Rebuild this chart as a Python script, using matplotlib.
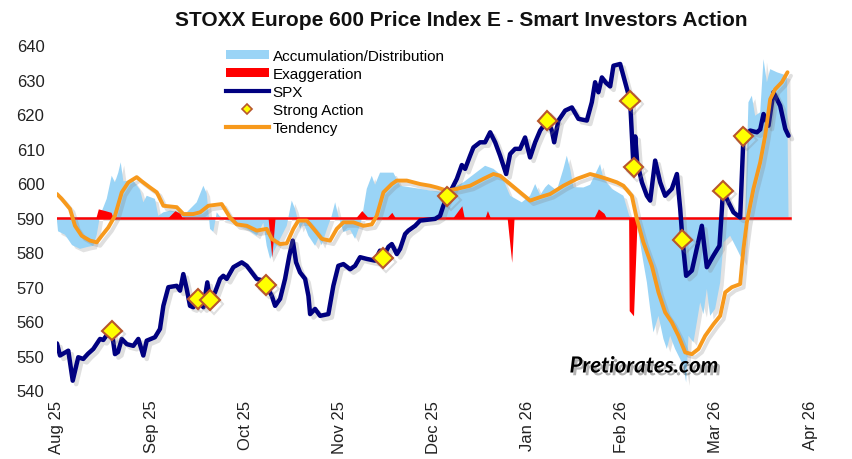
import matplotlib
matplotlib.use("Agg")
import matplotlib.pyplot as plt
import matplotlib.patheffects as pe
from matplotlib.patches import Patch
from matplotlib.lines import Line2D

plt.rcParams['font.family'] = ['Liberation Sans', 'DejaVu Sans']

# ---------------- data (x = months since 1 Aug 2025) ----------------
month_labels = ["Aug 25", "Sep 25", "Oct 25", "Nov 25", "Dec 25",
                "Jan 26", "Feb 26", "Mar 26", "Apr 26"]
month_ticks = [0, 1, 2, 3, 4, 5, 6, 7, 8]
baseline = 590

spx_x = [0.000, 0.032, 0.064, 0.120, 0.167, 0.226, 0.279, 0.329, 0.386, 0.457,
         0.492, 0.531, 0.581, 0.616, 0.648, 0.688, 0.741, 0.811, 0.864, 0.917,
         0.953, 1.041, 1.094, 1.130, 1.183, 1.272, 1.307, 1.342, 1.378, 1.413,
         1.448, 1.495, 1.555, 1.597, 1.626, 1.679, 1.732, 1.767, 1.803, 1.874,
         1.963, 2.016, 2.069, 2.122, 2.192, 2.218, 2.282, 2.317, 2.370, 2.423,
         2.469, 2.505, 2.540, 2.582, 2.636, 2.671, 2.689, 2.742, 2.795, 2.883,
         2.936, 2.989, 3.043, 3.114, 3.167, 3.220, 3.291, 3.379, 3.432, 3.461,
         3.521, 3.557, 3.610, 3.645, 3.698, 3.733, 3.805, 3.858, 4.017, 4.070,
         4.105, 4.148, 4.194, 4.248, 4.301, 4.336, 4.389, 4.424, 4.495, 4.548,
         4.602, 4.655, 4.708, 4.772, 4.814, 4.867, 4.920, 4.973, 5.026, 5.080,
         5.133, 5.210, 5.257, 5.282, 5.327, 5.399, 5.470, 5.540, 5.629, 5.682,
         5.717, 5.752, 5.789, 5.834, 5.877, 5.912, 5.983, 6.036, 6.089, 6.111,
         6.125, 6.143, 6.164, 6.214, 6.267, 6.302, 6.355, 6.408, 6.461, 6.532,
         6.586, 6.621, 6.645, 6.684, 6.745, 6.851, 6.904, 6.975, 7.038, 7.064,
         7.075, 7.134, 7.187, 7.258, 7.293, 7.365, 7.436, 7.471, 7.506, 7.559,
         7.612, 7.683, 7.737, 7.772]
spx_y = [553.5, 550.0, 550.5, 551.4, 542.7, 549.5, 549.0, 550.5, 551.9, 554.8,
         554.5, 556.0, 557.2, 550.4, 551.0, 554.8, 553.3, 552.8, 554.8, 550.0,
         554.3, 555.3, 557.7, 564.4, 569.8, 570.2, 568.8, 573.6, 569.3, 564.4,
         564.0, 566.4, 564.0, 571.2, 566.0, 568.3, 572.2, 573.1, 572.2, 575.6,
         577.0, 576.0, 574.1, 572.2, 571.7, 570.4, 567.3, 564.4, 566.4, 572.2,
         579.0, 583.3, 577.0, 574.1, 572.2, 567.3, 562.0, 563.5, 561.5, 562.0,
         570.2, 576.0, 576.5, 575.0, 576.0, 578.5, 578.0, 577.5, 580.4, 578.2,
         581.5, 582.3, 579.4, 580.9, 585.2, 586.2, 587.6, 589.1, 589.6, 590.5,
         593.4, 596.1, 598.3, 601.2, 605.2, 604.1, 607.9, 610.3, 611.8, 611.8,
         614.7, 611.8, 607.9, 602.6, 608.4, 609.9, 609.9, 613.2, 607.4, 611.8,
         615.2, 618.1, 615.2, 611.8, 618.1, 621.0, 621.9, 618.6, 618.1, 623.4,
         629.2, 626.3, 630.6, 629.0, 628.0, 634.0, 634.5, 629.2, 623.9, 612.0,
         604.5, 613.5, 606.0, 600.2, 596.3, 594.9, 606.5, 600.2, 596.3, 598.3,
         602.6, 592.5, 583.6, 573.1, 574.6, 587.6, 575.6, 579.0, 581.8, 592.5,
         597.8, 594.4, 591.5, 590.0, 613.5, 615.2, 614.7, 615.5, 620.0, 616.6,
         626.3, 622.4, 615.7, 613.7]

action_x = [0.581, 1.495, 1.626, 2.218, 3.461, 4.148, 5.210, 6.089, 6.125,
            6.645, 7.075, 7.293]
action_y = [557.2, 566.4, 566.0, 570.4, 578.2, 596.1, 618.1, 623.9, 604.5,
            583.6, 597.8, 613.5]

tend_x = [0.000, 0.050, 0.138, 0.191, 0.262, 0.351, 0.422, 0.475, 0.545, 0.616,
          0.688, 0.758, 0.847, 0.900, 0.988, 1.060, 1.130, 1.272, 1.342, 1.448,
          1.520, 1.608, 1.750, 1.838, 1.910, 2.016, 2.122, 2.228, 2.282, 2.370,
          2.441, 2.511, 2.564, 2.654, 2.742, 2.813, 2.901, 2.972, 3.043, 3.149,
          3.255, 3.344, 3.397, 3.468, 3.557, 3.610, 3.716, 3.858, 3.964, 4.035,
          4.141, 4.248, 4.389, 4.530, 4.637, 4.708, 4.814, 4.920, 5.026, 5.133,
          5.239, 5.380, 5.523, 5.664, 5.735, 5.842, 5.948, 6.018, 6.107, 6.160,
          6.230, 6.320, 6.390, 6.461, 6.532, 6.603, 6.674, 6.745, 6.815, 6.886,
          6.975, 7.046, 7.099, 7.170, 7.258, 7.293, 7.329, 7.399, 7.471, 7.524,
          7.577, 7.630, 7.701, 7.761]
tend_y = [596.8, 595.4, 592.5, 587.6, 584.7, 583.3, 582.8, 584.7, 587.1, 590.5,
          597.3, 600.2, 601.7, 600.5, 598.7, 597.3, 593.4, 593.0, 591.0, 591.0,
          591.5, 593.4, 593.9, 590.0, 588.0, 587.6, 586.2, 586.7, 583.8, 582.3,
          582.5, 586.7, 589.1, 589.1, 586.2, 583.8, 583.3, 586.7, 588.6, 588.6,
          587.6, 588.0, 590.5, 597.3, 599.7, 600.7, 600.7, 599.7, 599.2, 598.7,
          597.8, 598.3, 599.2, 601.2, 602.6, 602.1, 599.7, 597.3, 594.9, 595.9,
          596.8, 599.2, 601.2, 602.6, 602.1, 601.2, 600.2, 599.2, 596.3, 589.6,
          582.8, 576.0, 568.3, 562.5, 559.6, 555.7, 550.9, 550.4, 551.9, 555.7,
          559.1, 561.5, 568.3, 569.8, 570.7, 580.9, 588.6, 598.3, 606.0, 613.7,
          624.3, 627.2, 629.2, 632.1]

ad_x = [0.000, 0.011, 0.085, 0.160, 0.244, 0.329, 0.386, 0.422, 0.457, 0.528,
        0.581, 0.616, 0.651, 0.677, 0.705, 0.811, 0.882, 0.917, 0.953, 1.041,
        1.076, 1.130, 1.201, 1.307, 1.378, 1.484, 1.555, 1.590, 1.626, 1.661,
        1.697, 1.753, 1.874, 2.016, 2.122, 2.192, 2.228, 2.264, 2.352, 2.441,
        2.494, 2.529, 2.582, 2.618, 2.671, 2.742, 2.777, 2.813, 2.866, 2.919,
        2.955, 2.989, 3.043, 3.114, 3.167, 3.202, 3.238, 3.291, 3.344, 3.379,
        3.432, 3.574, 3.645, 3.858, 3.964, 4.141, 4.248, 4.318, 4.389, 4.548,
        4.637, 4.725, 4.814, 4.938, 5.026, 5.080, 5.133, 5.186, 5.221, 5.310,
        5.380, 5.416, 5.452, 5.487, 5.593, 5.664, 5.770, 5.806, 5.895, 6.018,
        6.079, 6.164, 6.230, 6.267, 6.302, 6.337, 6.390, 6.443, 6.479, 6.514,
        6.567, 6.656, 6.684, 6.709, 6.762, 6.833, 6.868, 6.904, 6.939, 6.992,
        7.046, 7.081, 7.152, 7.223, 7.293, 7.311, 7.346, 7.382, 7.417, 7.471,
        7.506, 7.542, 7.577, 7.648, 7.755, 7.772]
ad_y = [589.0, 586.0, 585.0, 582.0, 580.9, 581.5, 581.8, 585.0, 590.5, 595.4,
        602.1, 600.2, 603.0, 606.0, 600.5, 600.7, 598.0, 594.4, 596.3, 595.4,
        590.5, 591.5, 592.0, 591.5, 591.5, 594.4, 599.2, 597.0, 586.7, 585.8,
        591.5, 589.5, 588.6, 586.7, 584.7, 588.5, 581.8, 578.0, 582.8, 587.6,
        594.9, 592.5, 586.7, 588.5, 584.7, 581.8, 584.0, 582.0, 586.5, 590.5,
        594.4, 590.5, 585.8, 586.5, 583.8, 586.5, 589.5, 598.3, 602.1, 599.5,
        603.0, 603.0, 599.2, 598.3, 597.8, 597.3, 599.2, 600.2, 601.7, 605.0,
        604.1, 602.1, 596.3, 594.4, 596.3, 599.7, 596.5, 598.7, 599.7, 597.8,
        604.1, 607.9, 604.1, 598.8, 598.7, 599.5, 605.5, 601.2, 598.3, 596.3,
        590.5, 588.0, 577.0, 571.2, 563.5, 556.7, 561.5, 554.8, 551.9, 555.7,
        551.9, 547.0, 542.2, 555.7, 553.8, 565.4, 562.0, 569.3, 561.5, 563.5,
        571.2, 582.8, 584.7, 580.9, 577.0, 589.6, 623.4, 625.3, 619.5, 620.5,
        635.9, 629.2, 633.0, 632.1, 631.1, 590.0]

exag_x = [0.000, 0.414, 0.439, 0.510, 0.574, 0.595, 1.180, 1.254, 1.307, 1.328,
          2.242, 2.282, 2.317, 3.177, 3.238, 3.305, 3.507, 3.557, 3.592, 4.208,
          4.301, 4.326, 4.548, 4.573, 4.602, 4.782, 4.831, 4.856, 5.706, 5.752,
          5.812, 5.834, 6.073, 6.079, 6.125, 6.164, 7.790]
exag_y = [590.0, 590.0, 592.5, 592.0, 591.5, 590.0, 590.0, 592.0, 591.2, 590.0,
          590.0, 578.5, 590.0, 590.0, 592.0, 590.0, 590.0, 591.5, 590.0, 590.0,
          593.4, 590.0, 590.0, 592.0, 590.0, 590.0, 577.0, 590.0, 590.0, 592.5,
          591.2, 590.0, 590.0, 563.0, 561.5, 590.0, 590.0]

# ---------------- styles ----------------
c_ad = '#9AD4F6'
c_ex = '#FF0000'
c_spx = '#000080'
c_tend = '#F7991C'
c_mfc = '#FFFF00'
c_mec = '#B8562C'

fig = plt.figure(figsize=(8.52, 4.60), dpi=100)
ax = fig.add_axes([57 / 852, 1 - 391 / 460, (810 - 57) / 852, (391 - 46) / 460])
ax.set_xlim(0, 8)
ax.set_ylim(540, 640)

shadow_fill = [pe.SimplePatchShadow(offset=(2.5, -2.5), shadow_rgbFace='0.55', alpha=0.25), pe.Normal()]
shadow_line = [pe.SimpleLineShadow(offset=(2.5, -2.5), shadow_color='0.5', alpha=0.25), pe.Normal()]

fa = ax.fill_between(ad_x, ad_y, baseline, color=c_ad, linewidth=0, zorder=1)
fa.set_path_effects(shadow_fill)
fe = ax.fill_between(exag_x, exag_y, baseline, color=c_ex, linewidth=0, zorder=2)
ax.plot([0, 7.79], [baseline, baseline], color=c_ex, linewidth=1.8, zorder=3)

ax.plot(spx_x, spx_y, color=c_spx, linewidth=3.2, solid_joinstyle='round',
        solid_capstyle='round', zorder=4, path_effects=shadow_line)
ax.plot(action_x, action_y, linestyle='none', marker='D', markersize=10,
        markerfacecolor=c_mfc, markeredgecolor=c_mec, markeredgewidth=1.5, zorder=6,
        path_effects=shadow_line)
ax.plot(tend_x, tend_y, color=c_tend, linewidth=2.8, solid_joinstyle='round',
        solid_capstyle='round', zorder=5, path_effects=shadow_line)

for s in ax.spines.values():
    s.set_visible(False)
ax.set_yticks(range(540, 641, 10))
ax.set_xticks(month_ticks)
ax.set_xticklabels(month_labels, rotation=90)
ax.tick_params(axis='both', length=0, labelsize=12, colors='#222222')
ax.tick_params(axis='y', pad=9)
ax.tick_params(axis='x', pad=7)

fig.text(461 / 852, 1 - 20 / 460, "STOXX Europe 600 Price Index E - Smart Investors Action",
         ha='center', va='center', fontsize=15, fontweight='bold', color='#111111')

handles = [Patch(facecolor=c_ad, edgecolor='none'),
           Patch(facecolor=c_ex, edgecolor='none'),
           Line2D([], [], color=c_spx, linewidth=3),
           Line2D([], [], linestyle='none', marker='D', markersize=5,
                  markerfacecolor=c_mfc, markeredgecolor=c_mec, markeredgewidth=1.2),
           Line2D([], [], color=c_tend, linewidth=3)]
labels = ["Accumulation/Distribution", "Exaggeration", "SPX", "Strong Action", "Tendency"]
fig.legend(handles, labels, loc='upper left', bbox_to_anchor=(226 / 852, 1 - 50 / 460),
           frameon=False, fontsize=11, handlelength=2.8, handleheight=0.55,
           handletextpad=0.25, labelspacing=0.27, borderpad=0, borderaxespad=0)

fig.text(644 / 852, 1 - 367 / 460, "Pretiorates.com", ha='center', va='center',
         fontsize=16, fontweight='bold', fontstyle='italic', family=['Lato', 'DejaVu Sans'],
         color='black',
         path_effects=[pe.SimplePatchShadow(offset=(2, -2), alpha=0.3), pe.Normal()])

fig.savefig("out.png", dpi=100)
